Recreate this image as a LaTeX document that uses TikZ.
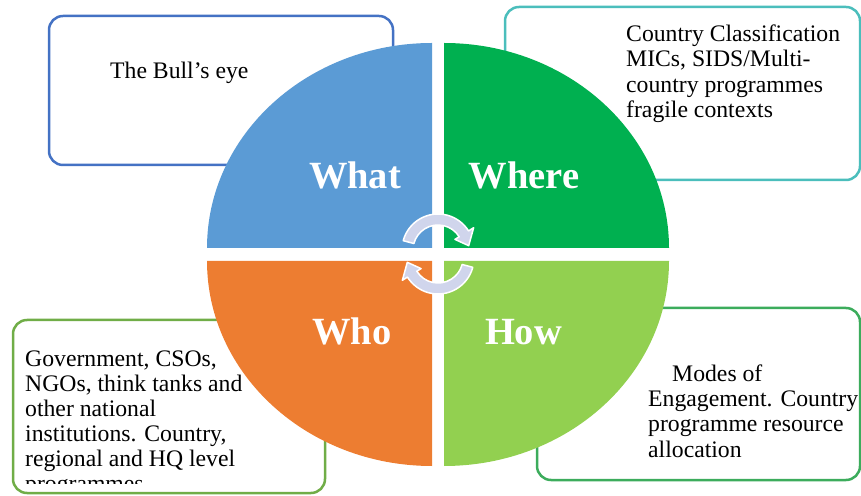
\documentclass[tikz,border=0pt]{standalone}
\usepackage{fontspec}
\setmainfont{Liberation Serif}

\definecolor{whatblue}{RGB}{91,155,213}
\definecolor{wheregreen}{RGB}{0,176,80}
\definecolor{whoorange}{RGB}{237,125,49}
\definecolor{howgreen}{RGB}{146,208,80}
\definecolor{boxblue}{RGB}{68,114,196}
\definecolor{boxteal}{RGB}{75,190,188}
\definecolor{boxgreen}{RGB}{112,173,71}
\definecolor{boxsea}{RGB}{60,172,92}
\definecolor{cyclefill}{RGB}{208,213,236}

\tikzset{
  infobox/.style={draw,line width=2.5pt,rounded corners=14pt,fill=white,inner sep=0pt},
  infotext/.style={font=\fontsize{23.7}{25}\selectfont,align=left,anchor=base west,inner sep=0pt},
  quadlabel/.style={font=\fontsize{38.5}{40}\selectfont\bfseries,text=white,anchor=base,inner sep=0pt},
  cyclearrow/.style={fill=cyclefill,draw=white,line width=1.5pt,line join=round}
}

\begin{document}
\begin{tikzpicture}[x=1pt,y=1pt]
\useasboundingbox (0,0) rectangle (861,495);

% text boxes behind the pie
\node[infobox,draw=boxblue,minimum width=344pt,minimum height=149pt] (whatbox) at (221,404.5) {};
\node[infobox,draw=boxteal,minimum width=355pt,minimum height=173pt] (wherebox) at (682.5,401.5) {};
\node[infobox,draw=boxgreen,minimum width=312pt,minimum height=173pt] (whobox) at (169,88.5) {};
\node[infobox,draw=boxsea,minimum width=323pt,minimum height=172pt] (howbox) at (698.5,101) {};

% anchors sit on the last line
\node[infotext] (whattext) at (110,416) {The Bull's eye};
\node[infotext,font=\fontsize{23.7}{25.5}\selectfont] (wheretext) at (626,377)
  {Country Classification\\MICs, SIDS/Multi-\\country programmes\\fragile contexts};
\node[infotext] (howtext) at (648,38)
  {\hspace*{24pt}Modes of\\Engagement. Country\\programme resource\\allocation};
\begin{scope}
  \clip (13,12) rectangle (325,175);
  \node[infotext] (whotext) at (25,4)
    {Government, CSOs,\\NGOs, think tanks and\\other national\\institutions. Country,\\regional and HQ level\\programmes};
\end{scope}

% the four quarters
\fill[whatblue] (432,247) -- (207,247) arc[start angle=180,end angle=90,x radius=225pt,y radius=205pt] -- cycle;
\fill[wheregreen] (444,247) -- (444,452) arc[start angle=90,end angle=0,x radius=225pt,y radius=205pt] -- cycle;
\fill[whoorange] (432,234) -- (207,234) arc[start angle=180,end angle=270,x radius=225pt,y radius=205pt] -- cycle;
\fill[howgreen] (444,234) -- (669,234) arc[start angle=0,end angle=-90,x radius=225pt,y radius=205pt] -- cycle;

\node[quadlabel] (what) at (355,306) {What};
\node[quadlabel] (where) at (524,306) {Where};
\node[quadlabel] (who) at (352,150) {Who};
\node[quadlabel] (how) at (523.5,150) {How};

% cycle arrows in the middle
\begin{scope}[shift={(438,245)}]
  \draw[cyclearrow] (165:36) arc[start angle=165,end angle=32,radius=36pt]
    -- (32:42) -- (8:31) -- (32:20) -- (32:25)
    arc[start angle=32,end angle=165,radius=25pt] -- cycle;
\end{scope}
\begin{scope}[shift={(438,237)}]
  \draw[cyclearrow] (-15:36) arc[start angle=-15,end angle=-148,radius=36pt]
    -- (-148:42) -- (-172:31) -- (-148:20) -- (-148:25)
    arc[start angle=-148,end angle=-15,radius=25pt] -- cycle;
\end{scope}
\end{tikzpicture}
\end{document}
